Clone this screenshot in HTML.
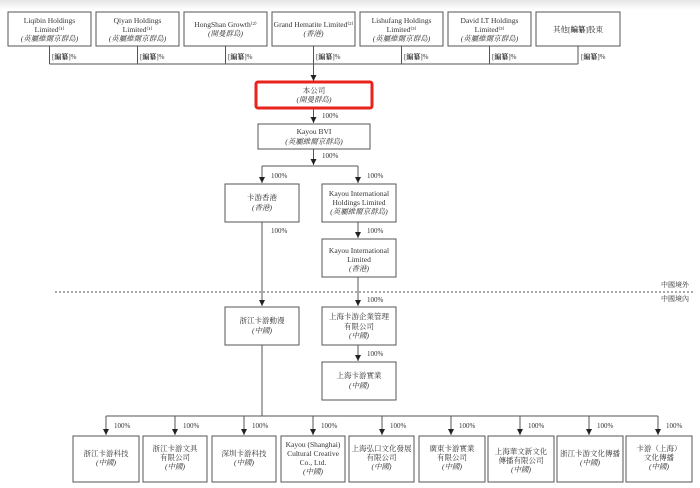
<!DOCTYPE html>
<html><head><meta charset="utf-8"><style>
html,body{margin:0;padding:0;background:#fff;}
svg{display:block;}
text{font-family:"Liberation Serif","Noto Serif CJK SC","Noto Sans CJK TC",serif;font-size:7.5px;fill:#333;text-anchor:middle;}
.l{text-anchor:start;font-size:7px;}
.i{font-style:italic;}
rect.b{fill:#fff;stroke:#555;stroke-width:1;}
line{stroke:#555;stroke-width:1;}
</style></head><body>
<svg width="700" height="488" viewBox="0 0 700 488">
<defs>
<linearGradient id="g" x1="0" y1="0" x2="0" y2="1"><stop offset="0" stop-color="#e6e6e6"/><stop offset="1" stop-color="#fff"/></linearGradient>
<marker id="a" viewBox="0 0 6 6" refX="6" refY="3" markerWidth="6" markerHeight="6" orient="auto"><path d="M0,0 L6,3 L0,6 z" fill="#222"/></marker>
</defs>
<rect x="0" y="0" width="700" height="10" fill="url(#g)"/>
<g>
<rect class="b" x="8" y="12" width="83" height="34"/><text x="49.5" y="23">Liqibin Holdings</text><text x="49.5" y="32">Limited⁽¹⁾</text><text x="49.5" y="41" class="i">(英屬維爾京群島)</text>
<rect class="b" x="96" y="12" width="83" height="34"/><text x="137.5" y="23">Qiyan Holdings</text><text x="137.5" y="32">Limited⁽¹⁾</text><text x="137.5" y="41" class="i">(英屬維爾京群島)</text>
<rect class="b" x="184" y="12" width="83" height="34"/><text x="225.5" y="27">HongShan Growth⁽²⁾</text><text x="225.5" y="36" class="i">(開曼群島)</text>
<rect class="b" x="272" y="12" width="83" height="34"/><text x="313.5" y="27">Grand Hematite Limited⁽²⁾</text><text x="313.5" y="36" class="i">(香港)</text>
<rect class="b" x="360" y="12" width="83" height="34"/><text x="401.5" y="23">Lishufang Holdings</text><text x="401.5" y="32">Limited⁽³⁾</text><text x="401.5" y="41" class="i">(英屬維爾京群島)</text>
<rect class="b" x="448" y="12" width="83" height="34"/><text x="489.5" y="23">David LT Holdings</text><text x="489.5" y="32">Limited⁽³⁾</text><text x="489.5" y="41" class="i">(英屬維爾京群島)</text>
<rect class="b" x="536" y="12" width="84" height="34"/><text x="578" y="32">其他[<tspan font-weight="bold">編纂</tspan>]股東</text>
</g>
<g>
<line x1="49.5" y1="46" x2="49.5" y2="64"/><line x1="137.5" y1="46" x2="137.5" y2="64"/><line x1="225.5" y1="46" x2="225.5" y2="64"/><line x1="401.5" y1="46" x2="401.5" y2="64"/><line x1="489.5" y1="46" x2="489.5" y2="64"/><line x1="578" y1="46" x2="578" y2="64"/>
<line x1="49.5" y1="64" x2="578" y2="64"/>
<line x1="313.5" y1="46" x2="313.5" y2="81" marker-end="url(#a)"/>
<text class="l" x="52" y="59">[<tspan font-weight="bold">編纂</tspan>]%</text>
<text class="l" x="140" y="59">[<tspan font-weight="bold">編纂</tspan>]%</text>
<text class="l" x="228" y="59">[<tspan font-weight="bold">編纂</tspan>]%</text>
<text class="l" x="316" y="59">[<tspan font-weight="bold">編纂</tspan>]%</text>
<text class="l" x="404" y="59">[<tspan font-weight="bold">編纂</tspan>]%</text>
<text class="l" x="492" y="59">[<tspan font-weight="bold">編纂</tspan>]%</text>
<text class="l" x="581" y="59">[<tspan font-weight="bold">編纂</tspan>]%</text>
</g>
<rect x="256" y="82" width="116" height="26" fill="#fff" stroke="#e8231c" stroke-width="3" rx="2"/>
<text x="314" y="93">本公司</text><text x="314" y="102" class="i">(開曼群島)</text>
<line x1="313.5" y1="109" x2="313.5" y2="123" marker-end="url(#a)"/><text class="l" x="322" y="118">100%</text>
<rect class="b" x="258" y="124" width="112" height="25"/><text x="314" y="134">Kayou BVI</text><text x="314" y="144" class="i">(英屬維爾京群島)</text>
<line x1="313.5" y1="149" x2="313.5" y2="165" marker-end="url(#a)"/><text class="l" x="322" y="158">100%</text>
<line x1="262" y1="166" x2="358" y2="166"/>
<line x1="262" y1="166" x2="262" y2="183" marker-end="url(#a)"/><text class="l" x="271" y="178">100%</text>
<line x1="358" y1="166" x2="358" y2="183" marker-end="url(#a)"/><text class="l" x="367" y="178">100%</text>
<rect class="b" x="225" y="184" width="74" height="38"/><text x="262" y="200">卡游香港</text><text x="262" y="210" class="i">(香港)</text>
<rect class="b" x="322" y="184" width="74" height="38"/><text x="359" y="196">Kayou International</text><text x="359" y="205">Holdings Limited</text><text x="359" y="214" class="i">(英屬維爾京群島)</text>
<text class="l" x="271" y="233">100%</text>
<line x1="358" y1="222" x2="358" y2="238" marker-end="url(#a)"/><text class="l" x="367" y="233">100%</text>
<rect class="b" x="322" y="239" width="74" height="38"/><text x="359" y="253">Kayou International</text><text x="359" y="262">Limited</text><text x="359" y="271" class="i">(香港)</text>
<line x1="55" y1="292" x2="693" y2="292" stroke-dasharray="2,2"/>
<text x="675" y="287" style="font-size:7px">中國境外</text><text x="675" y="301" style="font-size:7px">中國境內</text>
<line x1="262" y1="222" x2="262" y2="306" marker-end="url(#a)"/>
<line x1="358" y1="277" x2="358" y2="306" marker-end="url(#a)"/><text class="l" x="367" y="302">100%</text>
<rect class="b" x="225" y="307" width="74" height="38"/><text x="262" y="323">浙江卡游動漫</text><text x="262" y="333" class="i">(中國)</text>
<rect class="b" x="322" y="307" width="74" height="38"/><text x="359" y="319">上海卡游企業管理</text><text x="359" y="329">有限公司</text><text x="359" y="338" class="i">(中國)</text>
<line x1="358" y1="345" x2="358" y2="361" marker-end="url(#a)"/><text class="l" x="367" y="356">100%</text>
<rect class="b" x="322" y="362" width="74" height="38"/><text x="359" y="378">上海卡游實業</text><text x="359" y="388" class="i">(中國)</text>
<line x1="262" y1="345" x2="262" y2="416"/>
<line x1="106" y1="416" x2="658" y2="416"/>
<g>
<line x1="106" y1="416" x2="106" y2="435" marker-end="url(#a)"/><text class="l" x="114" y="428">100%</text>
<line x1="175" y1="416" x2="175" y2="435" marker-end="url(#a)"/><text class="l" x="183" y="428">100%</text>
<line x1="244" y1="416" x2="244" y2="435" marker-end="url(#a)"/><text class="l" x="252" y="428">100%</text>
<line x1="313" y1="416" x2="313" y2="435" marker-end="url(#a)"/><text class="l" x="321" y="428">100%</text>
<line x1="382" y1="416" x2="382" y2="435" marker-end="url(#a)"/><text class="l" x="390" y="428">100%</text>
<line x1="451" y1="416" x2="451" y2="435" marker-end="url(#a)"/><text class="l" x="459" y="428">100%</text>
<line x1="520" y1="416" x2="520" y2="435" marker-end="url(#a)"/><text class="l" x="528" y="428">100%</text>
<line x1="589" y1="416" x2="589" y2="435" marker-end="url(#a)"/><text class="l" x="597" y="428">100%</text>
<line x1="658" y1="416" x2="658" y2="435" marker-end="url(#a)"/><text class="l" x="666" y="428">100%</text>
</g>
<g>
<rect class="b" x="73" y="436" width="66" height="46"/><text x="106" y="456">浙江卡游科技</text><text x="106" y="465" class="i">(中國)</text>
<rect class="b" x="143" y="436" width="64" height="46"/><text x="175" y="451">浙江卡游文具</text><text x="175" y="460">有限公司</text><text x="175" y="469" class="i">(中國)</text>
<rect class="b" x="212" y="436" width="64" height="46"/><text x="244" y="456">深圳卡游科技</text><text x="244" y="465" class="i">(中國)</text>
<rect class="b" x="281" y="436" width="64" height="46"/><text x="313" y="447">Kayou (Shanghai)</text><text x="313" y="456">Cultural Creative</text><text x="313" y="465">Co., Ltd.</text><text x="313" y="474" class="i">(中國)</text>
<rect class="b" x="349" y="436" width="65" height="46"/><text x="381.5" y="451">上海弘口文化發展</text><text x="381.5" y="460">有限公司</text><text x="381.5" y="469" class="i">(中國)</text>
<rect class="b" x="419" y="436" width="66" height="46"/><text x="452" y="451">廣東卡游實業</text><text x="452" y="460">有限公司</text><text x="452" y="469" class="i">(中國)</text>
<rect class="b" x="488" y="436" width="66" height="46"/><text x="521" y="454">上海華文新文化</text><text x="521" y="463">傳播有限公司</text><text x="521" y="472" class="i">(中國)</text>
<rect class="b" x="557" y="436" width="66" height="46"/><text x="590" y="456">浙江卡游文化傳播</text><text x="590" y="465" class="i">(中國)</text>
<rect class="b" x="626" y="436" width="66" height="46"/><text x="659" y="451">卡游（上海）</text><text x="659" y="460">文化傳播</text><text x="659" y="469" class="i">(中國)</text>
</g>
</svg>
</body></html>
